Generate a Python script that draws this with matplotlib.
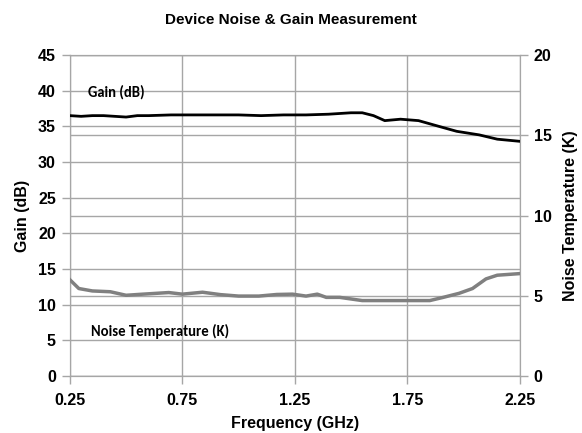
import matplotlib.pyplot as plt
import numpy as np

plt.rcParams['font.family'] = ['Liberation Sans', 'DejaVu Sans']
plt.rcParams['font.weight'] = 'bold'

# gain (dB) vs frequency (GHz)
gain_f = [0.25, 0.30, 0.35, 0.40, 0.45, 0.50, 0.55, 0.60, 0.70, 0.80, 0.90, 1.00,
          1.10, 1.20, 1.30, 1.40, 1.50, 1.55, 1.60, 1.65, 1.72, 1.80, 1.89,
          1.97, 2.07, 2.15, 2.25]
gain_db = [36.5, 36.4, 36.5, 36.5, 36.4, 36.3, 36.5, 36.5, 36.6, 36.6, 36.6, 36.6,
           36.5, 36.6, 36.6, 36.7, 36.9, 36.9, 36.5, 35.8, 36.0, 35.8, 35.0,
           34.3, 33.8, 33.2, 32.9]

# noise temperature (K) vs frequency (GHz)
noise_f = [0.25, 0.29, 0.35, 0.43, 0.50, 0.575, 0.69, 0.75, 0.84, 0.92, 1.00,
           1.09, 1.17, 1.24, 1.30, 1.35, 1.39, 1.45, 1.48, 1.55, 1.85, 1.91,
           1.98, 2.04, 2.10, 2.15, 2.25]
noise_k = [6.0, 5.45, 5.3, 5.25, 5.03, 5.1, 5.2, 5.1, 5.22, 5.07, 4.98,
           4.98, 5.08, 5.1, 4.98, 5.1, 4.9, 4.9, 4.84, 4.7, 4.7, 4.9,
           5.15, 5.45, 6.05, 6.28, 6.38]

grid_c = '#a6a6a6'

fig = plt.figure(figsize=(5.82, 4.33), dpi=100)
ax = fig.add_axes([0.120, 0.1316, 0.773, 0.7414])
ax2 = ax.twinx()

ax.set_xlim(0.25, 2.25)
ax.set_ylim(0, 45)
ax2.set_ylim(0, 20)
ax.set_xticks([0.25, 0.75, 1.25, 1.75, 2.25])
ax.set_yticks(np.arange(0, 46, 5))
ax2.set_yticks([0, 5, 10, 15, 20])

ax.grid(True, color=grid_c, linewidth=1)
ax2.grid(True, axis='y', color=grid_c, linewidth=1)
ax.set_axisbelow(True)
ax2.set_axisbelow(True)

for a in (ax, ax2):
    for s in a.spines.values():
        s.set_color(grid_c)
    a.tick_params(color=grid_c, length=6, width=1, labelsize=11.5, pad=4)
ax.tick_params(axis='x', pad=6)

ax2.plot(noise_f, noise_k, color='#808080', linewidth=2.5, zorder=3)
ax2.plot(np.array(gain_f), np.array(gain_db) * 20 / 45, color='black',
         linewidth=2, zorder=4)

ax.text(0.33, 39.8, 'Gain (dB)', fontsize=10.5, fontweight='bold',
        family=['Carlito', 'Liberation Sans'], va='center')
ax.text(0.343, 6.2, 'Noise Temperature (K)', fontsize=10.5, fontweight='bold',
        family=['Carlito', 'Liberation Sans'], va='center')

ax.set_xlabel('Frequency (GHz)', fontsize=11.5, fontweight='bold', labelpad=6)
ax.set_ylabel('Gain (dB)', fontsize=11.5, fontweight='bold', labelpad=6)
ax2.set_ylabel('Noise Temperature (K)', fontsize=11.5, fontweight='bold', labelpad=8)
fig.suptitle('Device Noise & Gain Measurement', fontsize=11, fontweight='bold', y=0.97)

fig.savefig('out.png', dpi=100)
